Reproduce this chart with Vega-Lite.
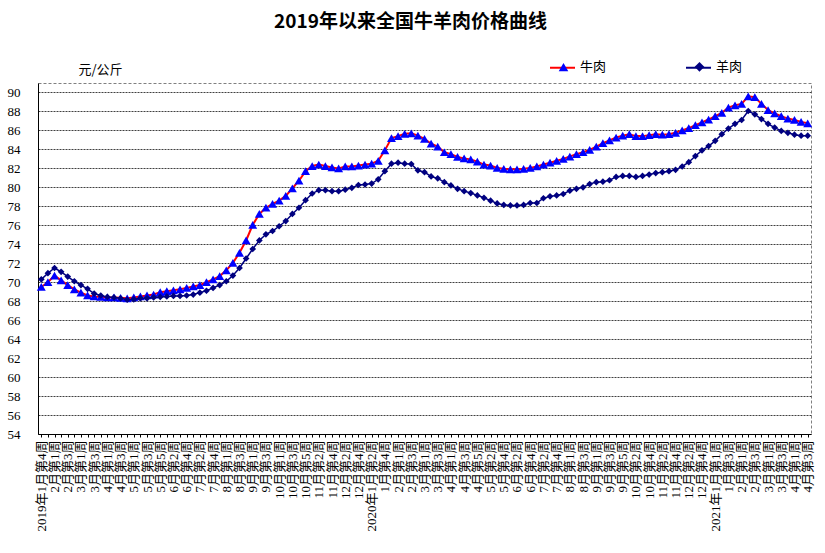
{
  "$schema": "https://vega.github.io/schema/vega-lite/v6.json",
  "width": 773,
  "height": 351,
  "autosize": {"type": "none"},
  "padding": {"left": 38, "top": 83, "right": 14, "bottom": 119},
  "background": "white",
  "title": {"text": "2019年以来全国牛羊肉价格曲线", "font": "Noto Sans CJK SC", "fontSize": 19, "fontWeight": "bold", "color": "#000000", "anchor": "middle", "frame": "group", "offset": 22, "dx": -14},
  "config": {
    "view": {"stroke": "#808080", "strokeDash": [3, 2], "strokeWidth": 1}
  },
  "data": {"values": [
    {"week": "2019年1月第4周", "牛肉": 69.5, "羊肉": 70.3},
    {"week": "2019年1月第5周", "牛肉": 70.0, "羊肉": 70.95},
    {"week": "2019年2月第1周", "牛肉": 70.7, "羊肉": 71.5},
    {"week": "2019年2月第2周", "牛肉": 70.2, "羊肉": 71.1},
    {"week": "2019年2月第3周", "牛肉": 69.7, "羊肉": 70.6},
    {"week": "2019年2月第4周", "牛肉": 69.25, "羊肉": 70.1},
    {"week": "2019年3月第1周", "牛肉": 68.9, "羊肉": 69.7},
    {"week": "2019年3月第2周", "牛肉": 68.6, "羊肉": 69.3},
    {"week": "2019年3月第3周", "牛肉": 68.5, "羊肉": 68.8},
    {"week": "2019年3月第4周", "牛肉": 68.45, "羊肉": 68.6},
    {"week": "2019年4月第1周", "牛肉": 68.4, "羊肉": 68.45},
    {"week": "2019年4月第2周", "牛肉": 68.4, "羊肉": 68.4},
    {"week": "2019年4月第3周", "牛肉": 68.35, "羊肉": 68.3},
    {"week": "2019年4月第4周", "牛肉": 68.3, "羊肉": 68.15},
    {"week": "2019年5月第1周", "牛肉": 68.4, "羊肉": 68.2},
    {"week": "2019年5月第2周", "牛肉": 68.5, "羊肉": 68.3},
    {"week": "2019年5月第3周", "牛肉": 68.6, "羊肉": 68.3},
    {"week": "2019年5月第4周", "牛肉": 68.7, "羊肉": 68.4},
    {"week": "2019年5月第5周", "牛肉": 68.95, "羊肉": 68.45},
    {"week": "2019年6月第1周", "牛肉": 69.05, "羊肉": 68.5},
    {"week": "2019年6月第2周", "牛肉": 69.15, "羊肉": 68.55},
    {"week": "2019年6月第3周", "牛肉": 69.25, "羊肉": 68.55},
    {"week": "2019年6月第4周", "牛肉": 69.4, "羊肉": 68.6},
    {"week": "2019年7月第1周", "牛肉": 69.55, "羊肉": 68.7},
    {"week": "2019年7月第2周", "牛肉": 69.7, "羊肉": 68.9},
    {"week": "2019年7月第3周", "牛肉": 70.0, "羊肉": 69.1},
    {"week": "2019年7月第4周", "牛肉": 70.3, "羊肉": 69.4},
    {"week": "2019年7月第5周", "牛肉": 70.65, "羊肉": 69.7},
    {"week": "2019年8月第1周", "牛肉": 71.25, "羊肉": 70.1},
    {"week": "2019年8月第2周", "牛肉": 72.05, "羊肉": 70.7},
    {"week": "2019年8月第3周", "牛肉": 73.1, "羊肉": 71.5},
    {"week": "2019年8月第4周", "牛肉": 74.4, "羊肉": 72.5},
    {"week": "2019年9月第1周", "牛肉": 76.05, "羊肉": 73.5},
    {"week": "2019年9月第2周", "牛肉": 77.2, "羊肉": 74.4},
    {"week": "2019年9月第3周", "牛肉": 77.85, "羊肉": 75.05},
    {"week": "2019年9月第4周", "牛肉": 78.25, "羊肉": 75.4},
    {"week": "2019年10月第1周", "牛肉": 78.6, "羊肉": 75.9},
    {"week": "2019年10月第2周", "牛肉": 79.1, "羊肉": 76.45},
    {"week": "2019年10月第3周", "牛肉": 79.9, "羊肉": 77.2},
    {"week": "2019年10月第4周", "牛肉": 80.7, "羊肉": 77.85},
    {"week": "2019年10月第5周", "牛肉": 81.7, "羊肉": 78.65},
    {"week": "2019年11月第1周", "牛肉": 82.25, "羊肉": 79.35},
    {"week": "2019年11月第2周", "牛肉": 82.4, "羊肉": 79.7},
    {"week": "2019年11月第3周", "牛肉": 82.25, "羊肉": 79.7},
    {"week": "2019年11月第4周", "牛肉": 82.1, "羊肉": 79.6},
    {"week": "2019年12月第1周", "牛肉": 82.0, "羊肉": 79.6},
    {"week": "2019年12月第2周", "牛肉": 82.2, "羊肉": 79.75},
    {"week": "2019年12月第3周", "牛肉": 82.2, "羊肉": 79.95},
    {"week": "2019年12月第4周", "牛肉": 82.3, "羊肉": 80.25},
    {"week": "2019年12月第5周", "牛肉": 82.4, "羊肉": 80.3},
    {"week": "2020年1月第2周", "牛肉": 82.5, "羊肉": 80.4},
    {"week": "2020年1月第3周", "牛肉": 82.8, "羊肉": 80.85},
    {"week": "2020年1月第4周", "牛肉": 83.9, "羊肉": 81.7},
    {"week": "2020年1月第5周", "牛肉": 85.2, "羊肉": 82.5},
    {"week": "2020年2月第1周", "牛肉": 85.4, "羊肉": 82.6},
    {"week": "2020年2月第2周", "牛肉": 85.65, "羊肉": 82.5},
    {"week": "2020年2月第3周", "牛肉": 85.7, "羊肉": 82.45},
    {"week": "2020年2月第4周", "牛肉": 85.45, "羊肉": 81.8},
    {"week": "2020年3月第1周", "牛肉": 85.1, "羊肉": 81.6},
    {"week": "2020年3月第2周", "牛肉": 84.6, "羊肉": 81.15},
    {"week": "2020年3月第3周", "牛肉": 84.3, "羊肉": 80.95},
    {"week": "2020年3月第4周", "牛肉": 83.7, "羊肉": 80.55},
    {"week": "2020年4月第1周", "牛肉": 83.5, "羊肉": 80.2},
    {"week": "2020年4月第2周", "牛肉": 83.2, "羊肉": 79.85},
    {"week": "2020年4月第3周", "牛肉": 83.05, "羊肉": 79.6},
    {"week": "2020年4月第4周", "牛肉": 82.95, "羊肉": 79.4},
    {"week": "2020年4月第5周", "牛肉": 82.7, "羊肉": 79.15},
    {"week": "2020年5月第1周", "牛肉": 82.4, "羊肉": 78.9},
    {"week": "2020年5月第2周", "牛肉": 82.3, "羊肉": 78.6},
    {"week": "2020年5月第3周", "牛肉": 82.05, "羊肉": 78.3},
    {"week": "2020年5月第4周", "牛肉": 81.95, "羊肉": 78.15},
    {"week": "2020年6月第1周", "牛肉": 81.9, "羊肉": 78.1},
    {"week": "2020年6月第2周", "牛肉": 81.9, "羊肉": 78.1},
    {"week": "2020年6月第3周", "牛肉": 81.95, "羊肉": 78.15},
    {"week": "2020年6月第4周", "牛肉": 82.05, "羊肉": 78.35},
    {"week": "2020年7月第1周", "牛肉": 82.2, "羊肉": 78.35},
    {"week": "2020年7月第2周", "牛肉": 82.4, "羊肉": 78.85},
    {"week": "2020年7月第3周", "牛肉": 82.6, "羊肉": 79.05},
    {"week": "2020年7月第4周", "牛肉": 82.8, "羊肉": 79.15},
    {"week": "2020年7月第5周", "牛肉": 83.0, "羊肉": 79.3},
    {"week": "2020年8月第1周", "牛肉": 83.25, "羊肉": 79.65},
    {"week": "2020年8月第2周", "牛肉": 83.5, "羊肉": 79.85},
    {"week": "2020年8月第3周", "牛肉": 83.7, "羊肉": 80.0},
    {"week": "2020年8月第4周", "牛肉": 83.95, "羊肉": 80.35},
    {"week": "2020年9月第1周", "牛肉": 84.3, "羊肉": 80.55},
    {"week": "2020年9月第2周", "牛肉": 84.65, "羊肉": 80.6},
    {"week": "2020年9月第3周", "牛肉": 84.95, "羊肉": 80.75},
    {"week": "2020年9月第4周", "牛肉": 85.25, "羊肉": 81.1},
    {"week": "2020年9月第5周", "牛肉": 85.45, "羊肉": 81.2},
    {"week": "2020年10月第1周", "牛肉": 85.6, "羊肉": 81.2},
    {"week": "2020年10月第2周", "牛肉": 85.4, "羊肉": 81.1},
    {"week": "2020年10月第3周", "牛肉": 85.4, "羊肉": 81.2},
    {"week": "2020年10月第4周", "牛肉": 85.5, "羊肉": 81.35},
    {"week": "2020年11月第1周", "牛肉": 85.6, "羊肉": 81.5},
    {"week": "2020年11月第2周", "牛肉": 85.55, "羊肉": 81.6},
    {"week": "2020年11月第3周", "牛肉": 85.6, "羊肉": 81.7},
    {"week": "2020年11月第4周", "牛肉": 85.75, "羊肉": 81.85},
    {"week": "2020年12月第1周", "牛肉": 86.0, "羊肉": 82.2},
    {"week": "2020年12月第2周", "牛肉": 86.25, "羊肉": 82.65},
    {"week": "2020年12月第3周", "牛肉": 86.55, "羊肉": 83.3},
    {"week": "2020年12月第4周", "牛肉": 86.85, "羊肉": 83.9},
    {"week": "2020年12月第5周", "牛肉": 87.15, "羊肉": 84.35},
    {"week": "2021年1月第1周", "牛肉": 87.5, "羊肉": 84.9},
    {"week": "2021年1月第2周", "牛肉": 87.85, "羊肉": 85.6},
    {"week": "2021年1月第3周", "牛肉": 88.4, "羊肉": 86.2},
    {"week": "2021年1月第4周", "牛肉": 88.65, "羊肉": 86.7},
    {"week": "2021年2月第1周", "牛肉": 88.8, "羊肉": 87.1},
    {"week": "2021年2月第2周", "牛肉": 89.6, "羊肉": 88.05},
    {"week": "2021年2月第3周", "牛肉": 89.5, "羊肉": 87.7},
    {"week": "2021年2月第4周", "牛肉": 88.8, "羊肉": 87.2},
    {"week": "2021年3月第1周", "牛肉": 88.15, "羊肉": 86.7},
    {"week": "2021年3月第2周", "牛肉": 87.8, "羊肉": 86.3},
    {"week": "2021年3月第3周", "牛肉": 87.5, "羊肉": 85.95},
    {"week": "2021年3月第4周", "牛肉": 87.25, "羊肉": 85.75},
    {"week": "2021年4月第1周", "牛肉": 87.1, "羊肉": 85.55},
    {"week": "2021年4月第2周", "牛肉": 86.9, "羊肉": 85.45},
    {"week": "2021年4月第3周", "牛肉": 86.75, "羊肉": 85.45}
  ]},
  "transform": [{"fold": ["牛肉", "羊肉"], "as": ["series", "price"]}],
  "encoding": {
    "x": {
      "field": "week", "type": "ordinal", "sort": null,
      "scale": {"type": "point", "padding": 0.5},
      "axis": {
        "title": null, "labelAngle": -90, "labelFont": "Liberation Serif, Noto Sans CJK SC",
        "labelFontSize": 13, "labelColor": "#000000", "labelOverlap": false, "labelPadding": 3,
        "labelBound": false, "labelFlush": false,
        "ticks": true, "tickSize": 3, "tickColor": "#000000", "domainColor": "#000000", "domainWidth": 1,
        "labelExpr": "round(datum.index * 116) % 2 == 1 ? '' : (indexof(['2019年1月第4周', '2020年1月第2周', '2021年1月第1周'], datum.value) >= 0 ? datum.value : replace(datum.value, regexp('^[0-9]+年'), ''))"
      }
    },
    "y": {
      "field": "price", "type": "quantitative",
      "scale": {"domain": [54, 91], "nice": false, "zero": false},
      "axis": {
        "values": [54, 56, 58, 60, 62, 64, 66, 68, 70, 72, 74, 76, 78, 80, 82, 84, 86, 88, 90],
        "grid": true, "gridColor": "#404040", "gridDash": [2, 1], "gridWidth": 1,
        "ticks": false, "domain": true, "domainColor": "#000000",
        "labelFont": "Liberation Serif", "labelFontSize": 13, "labelColor": "#000000", "labelPadding": 18,
        "title": "元/公斤", "titleAngle": 0, "titleX": 62, "titleY": -14, "titleAlign": "center", "titleBaseline": "middle",
        "titleFont": "Noto Sans CJK SC", "titleFontSize": 13, "titleFontWeight": "normal", "titleColor": "#000000"
      }
    }
  },
  "layer": [
    {
      "transform": [{"filter": "datum.series === '牛肉'"}],
      "mark": {"type": "line", "strokeWidth": 2},
      "encoding": {
        "stroke": {"field": "series", "type": "nominal", "scale": {"domain": ["牛肉", "羊肉"], "range": ["#FF0000", "#000080"]},
          "legend": {"orient": "none", "legendX": 511, "legendY": -29, "direction": "horizontal", "title": null,
            "symbolType": "stroke", "symbolSize": 625, "symbolStrokeWidth": 2,
            "labelFont": "Noto Sans CJK SC", "labelFontSize": 13, "labelColor": "#000000", "labelOpacity": 0,
            "labelOffset": 3, "columnPadding": 76, "padding": 0}
        }
      }
    },
    {
      "transform": [{"filter": "datum.series === '牛肉'"}],
      "mark": {"type": "point", "filled": true, "opacity": 1, "size": 80},
      "encoding": {
        "shape": {"field": "series", "type": "nominal", "scale": {"range": ["triangle-up", "diamond"]},
          "legend": {"orient": "none", "legendX": 519, "legendY": -23, "direction": "horizontal", "title": null,
            "labelFont": "Noto Sans CJK SC", "labelFontSize": 13, "labelColor": "#000000",
            "symbolSize": 92, "labelOffset": 10, "columnPadding": 84, "padding": 0}
        },
        "fill": {"field": "series", "type": "nominal", "scale": {"range": ["#0000FF", "#000080"]},
          "legend": {"orient": "none", "legendX": 519, "legendY": -23, "direction": "horizontal", "title": null,
            "labelFont": "Noto Sans CJK SC", "labelFontSize": 13, "labelColor": "#000000",
            "symbolSize": 92, "labelOffset": 10, "columnPadding": 84, "padding": 0}
        }
      }
    },
    {
      "transform": [{"filter": "datum.series === '羊肉'"}],
      "mark": {"type": "line", "strokeWidth": 1.5},
      "encoding": {
        "stroke": {"field": "series", "type": "nominal", "scale": {"domain": ["牛肉", "羊肉"], "range": ["#FF0000", "#000080"]},
          "legend": {"orient": "none", "legendX": 511, "legendY": -29, "direction": "horizontal", "title": null,
            "symbolType": "stroke", "symbolSize": 625, "symbolStrokeWidth": 2,
            "labelFont": "Noto Sans CJK SC", "labelFontSize": 13, "labelColor": "#000000", "labelOpacity": 0,
            "labelOffset": 3, "columnPadding": 76, "padding": 0}
        }
      }
    },
    {
      "transform": [{"filter": "datum.series === '羊肉'"}],
      "mark": {"type": "point", "filled": true, "opacity": 1, "size": 45},
      "encoding": {
        "shape": {"field": "series", "type": "nominal", "scale": {"range": ["triangle-up", "diamond"]},
          "legend": {"orient": "none", "legendX": 519, "legendY": -23, "direction": "horizontal", "title": null,
            "labelFont": "Noto Sans CJK SC", "labelFontSize": 13, "labelColor": "#000000",
            "symbolSize": 92, "labelOffset": 10, "columnPadding": 84, "padding": 0}
        },
        "fill": {"field": "series", "type": "nominal", "scale": {"range": ["#0000FF", "#000080"]},
          "legend": {"orient": "none", "legendX": 519, "legendY": -23, "direction": "horizontal", "title": null,
            "labelFont": "Noto Sans CJK SC", "labelFontSize": 13, "labelColor": "#000000",
            "symbolSize": 92, "labelOffset": 10, "columnPadding": 84, "padding": 0}
        }
      }
    }
  ]
}
